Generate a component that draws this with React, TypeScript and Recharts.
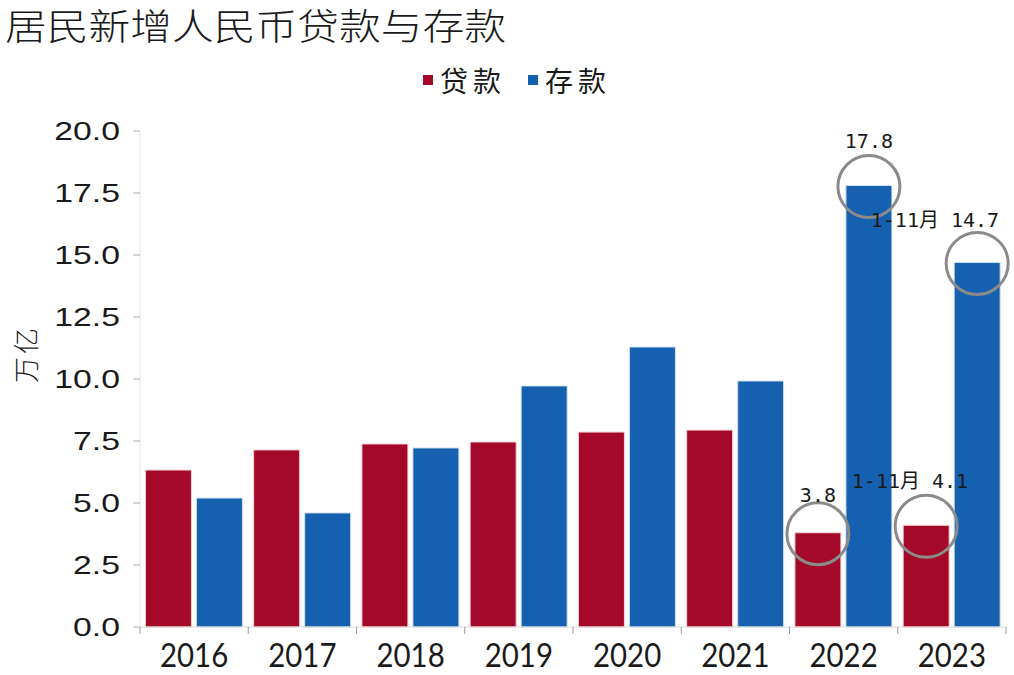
import React from "react";
import { BarChart, Bar, XAxis, YAxis, LabelList } from "recharts";

const years = ["2016", "2017", "2018", "2019", "2020", "2021", "2022", "2023"];
const loans = [6.33, 7.14, 7.38, 7.46, 7.86, 7.94, 3.8, 4.1];
const deposits = [5.2, 4.6, 7.22, 9.72, 11.29, 9.92, 17.8, 14.7];
const yTicks = [0, 2.5, 5, 7.5, 10, 12.5, 15, 17.5, 20];

// circled callouts, keyed by year
const loanNotes: Record<string, string> = { "2022": "3.8", "2023": "1-11月 4.1" };
const depositNotes: Record<string, string> = { "2022": "17.8", "2023": "1-11月 14.7" };

const data = years.map((year, i) => ({ year, loan: loans[i], deposit: deposits[i] }));

const W = 1014;
const H = 675;
const LEFT = 140;
const RIGHT = 8;
const TOP = 131;
const XH = 48;
const PLOT_W = W - LEFT - RIGHT;
const PLOT_BOTTOM = H - XH;

const RED = "#A5092A";
const BLUE = "#1560AF";
const CJK = "'Noto Sans CJK SC', sans-serif";
const MONO = "'DejaVu Sans Mono', 'Noto Sans CJK SC', monospace";

// text placement of each callout relative to its bar (anchor, dx, dy)
const notePlace: Record<string, [string, number, number]> = {
  "loan-2022": ["middle", 0, -31],
  "loan-2023": ["end", 42, -37],
  "deposit-2022": ["middle", 0, -38],
  "deposit-2023": ["end", 22, -35],
};

function YTick({ x, y, payload }: any) {
  return (
    <text
      transform={`translate(${x},${y}) scale(1.35,1)`}
      textAnchor="end"
      dy="0.36em"
      fontFamily="'Liberation Sans', Arial, sans-serif"
      fontSize={25}
      fill="#1a1a1a"
    >
      {Number(payload.value).toFixed(1)}
    </text>
  );
}

function XTick({ x, payload, index }: any) {
  const bw = PLOT_W / years.length;
  return (
    <g>
      <line x1={x - bw / 2} x2={x - bw / 2} y1={PLOT_BOTTOM} y2={PLOT_BOTTOM + 7} stroke="#9a9a9a" />
      {index === years.length - 1 && (
        <line x1={x + bw / 2} x2={x + bw / 2} y1={PLOT_BOTTOM} y2={PLOT_BOTTOM + 7} stroke="#9a9a9a" />
      )}
      <text
        transform={`translate(${x},${PLOT_BOTTOM + 40}) scale(0.92,1)`}
        textAnchor="middle"
        fontFamily="Lato, sans-serif"
        fontSize={32}
        fill="#1a1a1a"
      >
        {payload.value}
      </text>
    </g>
  );
}

function makeNote(series: string, notes: Record<string, string>) {
  return function Note(props: any) {
    const { x, y, width, index } = props;
    const year = years[index];
    const text = notes[year];
    if (!text) return null;
    const [anchor, dx, dy] = notePlace[`${series}-${year}`];
    const cx = x + width / 2;
    return (
      <g>
        <circle cx={cx} cy={y + 1} r={31} fill="none" stroke="#8a8a8a" strokeWidth={3} />
        <text
          x={cx + dx}
          y={y + dy}
          textAnchor={anchor as any}
          fontFamily={MONO}
          fontSize={20}
          fill="#1a1a1a"
          xmlSpace="preserve"
        >
          {text}
        </text>
      </g>
    );
  };
}

export default function App() {
  return (
    <div style={{ position: "absolute", left: 0, top: 0, width: W, height: H, background: "#fff" }}>
      <div
        style={{
          position: "absolute",
          left: 5,
          top: 6,
          fontFamily: CJK,
          fontSize: 36,
          fontWeight: 300,
          lineHeight: "36px",
          color: "#1a1a1a",
          whiteSpace: "nowrap",
          transform: "scaleX(1.16)",
          transformOrigin: "left center",
        }}
      >
        居民新增人民币贷款与存款
      </div>
      <div
        style={{
          position: "absolute",
          left: 423,
          top: 63,
          display: "flex",
          alignItems: "center",
          fontFamily: CJK,
          fontSize: 28,
          lineHeight: "34px",
          letterSpacing: 5,
          color: "#1a1a1a",
        }}
      >
        <span style={{ width: 10, height: 10, background: RED, marginRight: 7 }} />
        <span>贷款</span>
        <span style={{ width: 10, height: 10, background: BLUE, marginLeft: 22, marginRight: 7 }} />
        <span>存款</span>
      </div>
      <div
        style={{
          position: "absolute",
          left: 24,
          top: 354,
          transform: "translate(-50%,-50%) rotate(-90deg)",
          fontFamily: CJK,
          fontSize: 26,
          fontWeight: 300,
          letterSpacing: 3,
          color: "#1a1a1a",
          whiteSpace: "nowrap",
        }}
      >
        万亿
      </div>
      <BarChart
        width={W}
        height={H}
        data={data}
        margin={{ top: TOP, right: RIGHT, bottom: 0, left: 0 }}
        barCategoryGap="5%"
        barGap={5}
      >
        <XAxis
          dataKey="year"
          height={XH}
          axisLine={{ stroke: "#d9d9d9" }}
          tickLine={false}
          tick={<XTick />}
          interval={0}
        />
        <YAxis
          width={LEFT}
          domain={[0, 20]}
          ticks={yTicks}
          axisLine={{ stroke: "#e6e6e6" }}
          tickLine={{ stroke: "#b0b0b0" }}
          tickSize={7}
          tickMargin={13}
          tick={<YTick />}
        />
        <Bar dataKey="loan" fill={RED} stroke="#f3d3d8" strokeWidth={1} isAnimationActive={false}>
          <LabelList dataKey="loan" content={makeNote("loan", loanNotes)} />
        </Bar>
        <Bar dataKey="deposit" fill={BLUE} stroke="#d3e2f3" strokeWidth={1} isAnimationActive={false}>
          <LabelList dataKey="deposit" content={makeNote("deposit", depositNotes)} />
        </Bar>
      </BarChart>
    </div>
  );
}
